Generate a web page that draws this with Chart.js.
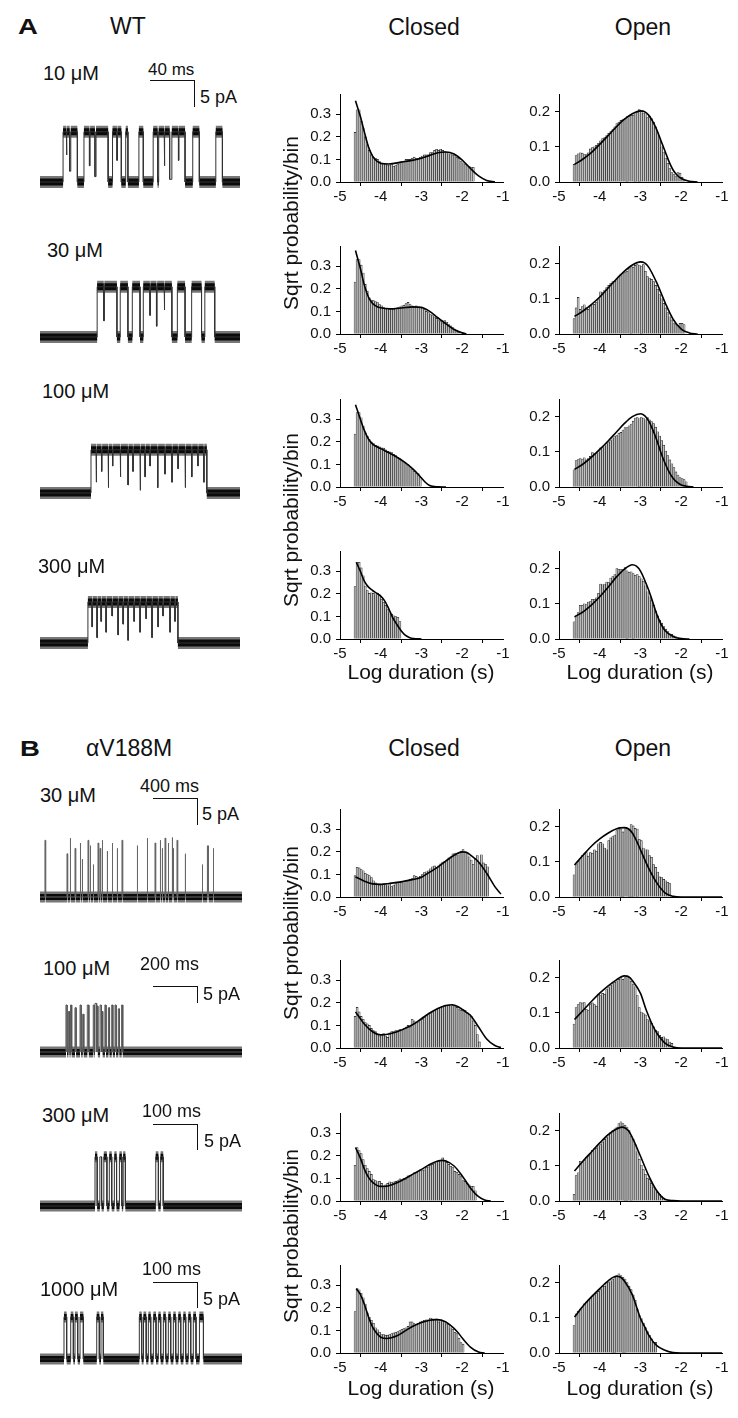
<!DOCTYPE html>
<html>
<head>
<meta charset="utf-8">
<script src="https://cdn.jsdelivr.net/npm/chart.js@4.4.1/dist/chart.umd.min.js"></script>
<style>
  body { margin: 0; background: #fff; width: 738px; height: 1418px; position: relative; overflow: hidden;
         font-family: "Liberation Sans", Arial, Helvetica, sans-serif; color: #111; }
  .t { position: absolute; white-space: nowrap; line-height: 1; }
  canvas { position: absolute; }
  .sb { position: absolute; background: #111; }
</style>
</head>
<body>
<script>
Chart.defaults.font.family = '"Liberation Sans", Arial, Helvetica, sans-serif';
Chart.defaults.color = '#111';
Chart.defaults.animation = false;

// histogram bins: centre of first bin and bin width, in log10(s)
const binFirst = -4.63;
const binWidth = 0.05;

// ---- WT closed / open dwell histograms (sqrt probability per bin)
const closedWT10 = [0.22,0.32,0.32,0.27,0.24,0.20,0.165,0.14,0.12,0.11,0.105,0.10,0.09,0.08,0.08,0.08,0.075,0.075,0.08,0.07,0.075,0.08,0.085,0.09,0.09,0.10,0.10,0.10,0.105,0.11,0.105,0.105,0.11,0.115,0.12,0.12,0.12,0.13,0.13,0.14,0.145,0.14,0.145,0.14,0.135,0.13,0.125,0.125,0.12,0.12,0.11,0.105,0.09,0.085,0.08,0.075,0.07,0.065,0.065];
const openWT10 = [0.05,0.075,0.08,0.083,0.082,0.078,0.078,0.083,0.094,0.098,0.10,0.104,0.11,0.117,0.123,0.126,0.132,0.138,0.143,0.149,0.157,0.166,0.17,0.175,0.177,0.18,0.186,0.187,0.19,0.19,0.194,0.197,0.206,0.20,0.196,0.197,0.183,0.187,0.18,0.17,0.157,0.14,0.12,0.10,0.085,0.068,0.053,0.038,0.027,0.021,0.017,0.027,0.025,0.013,0.007];
const closedWT30 = [0.23,0.33,0.33,0.305,0.27,0.22,0.19,0.16,0.15,0.148,0.144,0.139,0.13,0.125,0.117,0.115,0.115,0.11,0.11,0.11,0.115,0.117,0.12,0.125,0.128,0.135,0.14,0.13,0.125,0.12,0.125,0.12,0.117,0.115,0.108,0.10,0.095,0.086,0.082,0.075,0.069,0.06,0.055,0.049,0.06,0.052,0.042,0.036,0.029,0.022,0.016,0.009];
const openWT30 = [0.044,0.074,0.104,0.07,0.078,0.083,0.074,0.07,0.078,0.083,0.084,0.09,0.098,0.12,0.118,0.125,0.132,0.138,0.144,0.149,0.15,0.157,0.163,0.17,0.172,0.176,0.178,0.19,0.193,0.19,0.195,0.197,0.196,0.193,0.197,0.178,0.163,0.159,0.155,0.149,0.138,0.127,0.112,0.10,0.087,0.074,0.061,0.049,0.04,0.031,0.027,0.025,0.03,0.03,0.027];
const closedWT100 = [0.235,0.33,0.33,0.307,0.27,0.24,0.225,0.21,0.20,0.192,0.185,0.182,0.178,0.174,0.172,0.165,0.159,0.156,0.152,0.145,0.139,0.132,0.126,0.119,0.112,0.106,0.099,0.09,0.077,0.07,0.062,0.06,0.042];
const openWT100 = [0.049,0.075,0.078,0.081,0.078,0.083,0.077,0.081,0.087,0.098,0.094,0.095,0.10,0.111,0.112,0.117,0.123,0.128,0.132,0.14,0.145,0.146,0.153,0.155,0.162,0.169,0.169,0.174,0.179,0.187,0.196,0.197,0.194,0.197,0.196,0.191,0.197,0.191,0.186,0.18,0.17,0.157,0.145,0.132,0.119,0.102,0.089,0.077,0.066,0.055,0.043,0.034,0.027,0.024,0.021,0.015];
const closedWT300 = [0.232,0.34,0.34,0.315,0.28,0.235,0.215,0.202,0.205,0.202,0.196,0.202,0.196,0.176,0.163,0.149,0.13,0.116,0.11,0.103,0.099,0.096,0.077];
const openWT300 = [0.049,0.066,0.075,0.096,0.096,0.10,0.098,0.105,0.106,0.113,0.113,0.117,0.13,0.156,0.154,0.156,0.162,0.16,0.173,0.177,0.183,0.20,0.198,0.197,0.198,0.203,0.194,0.19,0.191,0.186,0.181,0.183,0.177,0.171,0.164,0.151,0.134,0.12,0.109,0.096,0.079,0.066,0.054,0.045,0.035,0.028,0.021,0.015,0.013,0.009,0.006];

// ---- alphaV188M closed / open
const closedVM30 = [0.095,0.132,0.129,0.121,0.116,0.105,0.099,0.095,0.086,0.072,0.063,0.055,0.053,0.055,0.059,0.055,0.05,0.059,0.046,0.053,0.059,0.063,0.066,0.068,0.063,0.072,0.072,0.079,0.082,0.095,0.092,0.086,0.092,0.099,0.108,0.112,0.116,0.125,0.134,0.138,0.132,0.138,0.147,0.155,0.158,0.164,0.174,0.178,0.191,0.195,0.184,0.187,0.204,0.21,0.20,0.195,0.178,0.164,0.145,0.171,0.184,0.151,0.187,0.151,0.145,0.134];
const openVM30 = [0.063,0.092,0.101,0.109,0.118,0.122,0.126,0.116,0.126,0.124,0.134,0.13,0.151,0.155,0.151,0.139,0.134,0.16,0.168,0.172,0.176,0.189,0.197,0.193,0.185,0.197,0.195,0.193,0.206,0.202,0.195,0.193,0.164,0.16,0.139,0.134,0.134,0.118,0.113,0.092,0.084,0.071,0.057,0.055,0.05,0.046,0.042,0.038];
const closedVM100 = [0.14,0.18,0.16,0.14,0.127,0.113,0.107,0.10,0.087,0.077,0.073,0.06,0.053,0.06,0.064,0.053,0.047,0.067,0.073,0.073,0.077,0.077,0.083,0.08,0.087,0.093,0.10,0.093,0.127,0.12,0.113,0.113,0.123,0.127,0.136,0.144,0.147,0.153,0.16,0.167,0.17,0.176,0.18,0.184,0.19,0.19,0.19,0.187,0.19,0.184,0.18,0.173,0.167,0.17,0.167,0.157,0.149,0.14,0.12,0.10,0.06,0.027];
const openVM100 = [0.068,0.115,0.123,0.129,0.128,0.129,0.11,0.106,0.123,0.128,0.123,0.119,0.153,0.149,0.155,0.153,0.166,0.172,0.179,0.183,0.187,0.191,0.195,0.20,0.195,0.20,0.205,0.20,0.19,0.18,0.174,0.149,0.115,0.102,0.098,0.094,0.081,0.077,0.07,0.06,0.051,0.047,0.036,0.03,0.032,0.026,0.024,0.017,0.013];
const closedVM300 = [0.158,0.237,0.224,0.21,0.184,0.158,0.144,0.131,0.118,0.095,0.091,0.085,0.087,0.078,0.058,0.072,0.078,0.085,0.082,0.085,0.087,0.091,0.098,0.095,0.101,0.098,0.111,0.114,0.118,0.125,0.125,0.131,0.138,0.135,0.138,0.148,0.151,0.158,0.162,0.167,0.175,0.177,0.18,0.191,0.18,0.171,0.162,0.154,0.148,0.131,0.127,0.118,0.111,0.091,0.087,0.078,0.072,0.065,0.065,0.045];
const openVM300 = [0.019,0.072,0.08,0.113,0.11,0.116,0.123,0.127,0.132,0.144,0.149,0.15,0.157,0.16,0.168,0.175,0.18,0.19,0.195,0.20,0.205,0.21,0.22,0.225,0.22,0.215,0.21,0.20,0.185,0.175,0.16,0.14,0.119,0.102,0.089,0.076,0.065,0.062,0.05,0.038,0.029,0.025,0.019,0.014,0.008,0.005];
const closedVM1000 = [0.184,0.285,0.28,0.265,0.245,0.217,0.178,0.158,0.145,0.132,0.112,0.103,0.092,0.082,0.082,0.079,0.079,0.082,0.086,0.089,0.092,0.095,0.099,0.105,0.108,0.112,0.118,0.138,0.138,0.13,0.125,0.132,0.138,0.142,0.145,0.147,0.147,0.155,0.151,0.147,0.151,0.138,0.147,0.142,0.134,0.129,0.125,0.112,0.105,0.092,0.086,0.066,0.046,0.039];
const openVM1000 = [0.078,0.111,0.119,0.125,0.13,0.14,0.145,0.15,0.155,0.16,0.165,0.17,0.175,0.18,0.19,0.19,0.20,0.20,0.205,0.21,0.215,0.22,0.225,0.22,0.215,0.21,0.20,0.19,0.18,0.165,0.15,0.125,0.106,0.098,0.085,0.072,0.061,0.051,0.04,0.03,0.03];

// ---- fitted curves [log duration, sqrt prob]
const fitClosedWT10 = [[-4.62,0.36],[-4.5,0.29],[-4.4,0.22],[-4.3,0.155],[-4.2,0.115],[-4.1,0.093],[-4.0,0.083],[-3.8,0.08],[-3.5,0.088],[-3.2,0.097],[-3.0,0.105],[-2.8,0.118],[-2.6,0.13],[-2.4,0.133],[-2.2,0.124],[-2.0,0.097],[-1.8,0.06],[-1.6,0.027],[-1.4,0.007],[-1.2,0.001]];
const fitOpenWT10 = [[-4.62,0.05],[-4.4,0.066],[-4.2,0.084],[-4.0,0.107],[-3.8,0.131],[-3.6,0.156],[-3.4,0.178],[-3.2,0.194],[-3.0,0.202],[-2.9,0.2],[-2.8,0.19],[-2.7,0.172],[-2.6,0.148],[-2.5,0.118],[-2.4,0.088],[-2.3,0.058],[-2.2,0.034],[-2.1,0.019],[-2.0,0.01],[-1.8,0.002],[-1.6,0]];
const fitClosedWT30 = [[-4.62,0.37],[-4.5,0.29],[-4.4,0.215],[-4.3,0.163],[-4.2,0.135],[-4.1,0.122],[-4.0,0.116],[-3.8,0.112],[-3.5,0.115],[-3.2,0.12],[-3.0,0.118],[-2.8,0.1],[-2.6,0.072],[-2.4,0.045],[-2.2,0.02],[-2.0,0.005],[-1.9,0.001]];
const fitOpenWT30 = [[-4.62,0.05],[-4.4,0.066],[-4.2,0.084],[-4.0,0.105],[-3.8,0.13],[-3.6,0.155],[-3.4,0.178],[-3.2,0.196],[-3.0,0.205],[-2.9,0.202],[-2.8,0.19],[-2.6,0.145],[-2.4,0.09],[-2.2,0.042],[-2.0,0.014],[-1.8,0.003],[-1.6,0]];
const fitClosedWT100 = [[-4.62,0.365],[-4.5,0.3],[-4.4,0.25],[-4.3,0.212],[-4.2,0.19],[-4.0,0.17],[-3.8,0.152],[-3.6,0.132],[-3.4,0.108],[-3.2,0.078],[-3.0,0.04],[-2.9,0.02],[-2.8,0.007],[-2.6,0.001],[-2.4,0]];
const fitOpenWT100 = [[-4.62,0.05],[-4.4,0.066],[-4.2,0.085],[-4.0,0.107],[-3.8,0.13],[-3.6,0.155],[-3.4,0.18],[-3.2,0.2],[-3.0,0.208],[-2.9,0.203],[-2.8,0.188],[-2.7,0.163],[-2.6,0.133],[-2.5,0.098],[-2.4,0.068],[-2.3,0.043],[-2.2,0.025],[-2.1,0.013],[-2.0,0.006],[-1.8,0.001],[-1.7,0]];
const fitClosedWT300 = [[-4.6,0.34],[-4.5,0.3],[-4.4,0.255],[-4.3,0.23],[-4.2,0.215],[-4.1,0.203],[-4.0,0.19],[-3.9,0.168],[-3.8,0.133],[-3.7,0.092],[-3.6,0.063],[-3.5,0.037],[-3.4,0.017],[-3.3,0.007],[-3.2,0.002],[-3.0,0]];
const fitOpenWT300 = [[-4.62,0.063],[-4.4,0.078],[-4.2,0.097],[-4.0,0.12],[-3.8,0.146],[-3.6,0.175],[-3.4,0.198],[-3.2,0.211],[-3.1,0.207],[-3.0,0.193],[-2.8,0.139],[-2.7,0.105],[-2.6,0.07],[-2.5,0.043],[-2.4,0.024],[-2.2,0.007],[-2.0,0.001],[-1.8,0]];
const fitClosedVM30 = [[-4.62,0.09],[-4.4,0.07],[-4.2,0.058],[-4.0,0.056],[-3.8,0.06],[-3.5,0.067],[-3.2,0.078],[-3.0,0.088],[-2.8,0.11],[-2.6,0.132],[-2.4,0.16],[-2.2,0.185],[-2.0,0.2],[-1.9,0.198],[-1.8,0.186],[-1.6,0.155],[-1.4,0.105],[-1.2,0.046],[-1.05,0.013]];
const fitOpenVM30 = [[-4.62,0.091],[-4.4,0.12],[-4.2,0.145],[-4.0,0.165],[-3.8,0.181],[-3.6,0.193],[-3.4,0.197],[-3.3,0.194],[-3.2,0.182],[-3.1,0.16],[-3.0,0.134],[-2.8,0.082],[-2.6,0.04],[-2.4,0.012],[-2.2,0.002],[-2.0,0],[-1.0,0]];
const fitClosedVM100 = [[-4.62,0.16],[-4.5,0.13],[-4.4,0.105],[-4.2,0.072],[-4.0,0.058],[-3.8,0.062],[-3.6,0.072],[-3.4,0.087],[-3.2,0.105],[-3.0,0.13],[-2.8,0.155],[-2.6,0.175],[-2.4,0.188],[-2.25,0.192],[-2.1,0.183],[-1.9,0.158],[-1.8,0.145],[-1.6,0.093],[-1.4,0.04],[-1.2,0.011],[-1.05,0.002]];
const fitOpenVM100 = [[-4.62,0.081],[-4.4,0.108],[-4.2,0.133],[-4.0,0.156],[-3.8,0.176],[-3.6,0.193],[-3.4,0.205],[-3.3,0.203],[-3.2,0.192],[-3.0,0.155],[-2.85,0.105],[-2.65,0.052],[-2.4,0.014],[-2.2,0.003],[-2.0,0],[-1.0,0]];
const fitClosedVM300 = [[-4.62,0.237],[-4.5,0.19],[-4.4,0.14],[-4.3,0.105],[-4.2,0.083],[-4.0,0.065],[-3.9,0.065],[-3.7,0.074],[-3.5,0.09],[-3.2,0.12],[-3.0,0.14],[-2.8,0.162],[-2.6,0.177],[-2.5,0.18],[-2.4,0.177],[-2.2,0.155],[-2.0,0.111],[-1.8,0.058],[-1.6,0.019],[-1.45,0.004],[-1.3,0]];
const fitOpenVM300 = [[-4.62,0.085],[-4.4,0.115],[-4.2,0.14],[-4.0,0.165],[-3.8,0.188],[-3.6,0.204],[-3.45,0.21],[-3.3,0.2],[-3.2,0.18],[-3.0,0.127],[-2.8,0.072],[-2.6,0.029],[-2.4,0.005],[-2.2,0.001],[-2.0,0],[-1.0,0]];
const fitClosedVM1000 = [[-4.6,0.285],[-4.5,0.26],[-4.4,0.215],[-4.3,0.16],[-4.2,0.115],[-4.1,0.088],[-4.0,0.07],[-3.85,0.064],[-3.6,0.076],[-3.4,0.098],[-3.2,0.12],[-3.0,0.135],[-2.8,0.145],[-2.65,0.148],[-2.5,0.145],[-2.3,0.125],[-2.1,0.09],[-2.0,0.066],[-1.8,0.026],[-1.6,0.004],[-1.45,0]];
const fitOpenVM1000 = [[-4.62,0.102],[-4.4,0.135],[-4.2,0.16],[-4.0,0.183],[-3.8,0.204],[-3.6,0.218],[-3.5,0.216],[-3.4,0.205],[-3.2,0.165],[-3.0,0.098],[-2.9,0.075],[-2.8,0.051],[-2.6,0.021],[-2.4,0.008],[-2.2,0.001],[-2.0,0],[-1.0,0]];

const xTicks = [-5, -4, -3, -2, -1];

// ---- single channel traces: [time ms, current pA], level holds until the next entry
const traceWT10 = [[0,0],[21,9.3],[24,5],[24.5,9.3],[27,2],[28,9.3],[34,0],[40,9.3],[45,3],[45.6,9.3],[50,1],[51,9.3],[62,0],[66,9.3],[70,4],[70.5,9.3],[74,0],[78,9.3],[80,0],[90,9.3],[94,0],[103,9.3],[107,0],[108,9.3],[113,3],[113.6,9.3],[118,0.5],[120,9.3],[126,4],[126.5,9.3],[132,0],[139,9.3],[145,0],[160,9.3],[166,0],[182,0]];
const traceWT30 = [[0,0],[52,9.3],[58,3],[58.6,9.3],[70,0],[73,9.3],[80,0],[84,9.3],[91,0],[94,9.3],[100,4],[100.5,9.3],[106,2],[106.6,9.3],[113,5],[113.5,9.3],[120,0],[125,9.3],[132,0],[138,9.3],[147,0],[150,9.3],[159,0],[182,0]];
const traceWT100 = [[0,0],[46.4,8],[51,2],[51.5,8],[56,4],[56.5,8],[62,1],[62.5,8],[66,5],[66.5,8],[73,3],[73.5,8],[80,1.5],[80.5,8],[84.5,4],[85,8],[91,0.5],[91.5,8],[95.5,3],[96,8],[100,5],[100.5,8],[107,1],[107.5,8],[113.6,3.5],[114.1,8],[120,2],[120.5,8],[125.5,4.5],[126,8],[132,1],[132.5,8],[138,3],[138.5,8],[143.6,5],[144.1,8],[149,2],[149.5,8],[151.8,0],[182,0]];
const traceWT300 = [[0,0],[43.6,7.6],[47.3,3],[47.8,7.6],[51.8,1],[52.3,7.6],[55.5,4],[56,7.6],[60,2],[60.5,7.6],[65.5,5],[66,7.6],[70.9,1.5],[71.4,7.6],[75.5,3.5],[76,7.6],[80,0.5],[80.5,7.6],[85.5,4],[86,7.6],[90.9,2],[91.4,7.6],[96.4,4.5],[96.9,7.6],[101.8,1],[102.3,7.6],[107.3,3],[107.8,7.6],[111.8,5],[112.3,7.6],[118.2,2],[118.7,7.6],[122.7,4],[123.2,7.6],[125.5,0],[182,0]];
const traceVM30 = [[0,0],[45,10.5],[51,0],[245,8],[251,0],[273,10.9],[279,0],[318,9],[324,0],[364,10],[370,0],[382,7],[388,0],[436,10.5],[442,0],[455,9.5],[461,0],[482,6],[488,0],[527,10],[533,0],[545,9],[551,0],[564,10.5],[570,0],[609,8.5],[615,0],[655,10],[661,0],[700,9],[706,0],[745,10.5],[751,0],[882,9.5],[888,0],[973,10.9],[979,0],[1045,10],[1051,0],[1091,10.5],[1097,0],[1109,9],[1115,0],[1136,10.9],[1142,0],[1164,10],[1170,0],[1200,11],[1206,0],[1209,9],[1215,0],[1245,10.5],[1251,0],[1318,8],[1324,0],[1473,6],[1479,0],[1518,9.5],[1524,0],[1527,9.5],[1533,0],[1573,9],[1579,0],[1836,0]];
const traceVM100 = [[0,0],[118,8.7],[123,0],[129,7.5],[134,0],[139,8.7],[144,0],[159,8.2],[164,0],[182,8.7],[187,0],[194,7],[199,0],[215,8.7],[222,0],[242,8.7],[247,0],[250,9],[257,0],[258,8.5],[263,0],[273,8.7],[278,0],[280,7.5],[285,0],[295,8.7],[300,0],[311,8.2],[316,0],[326,8.7],[331,0],[341,8.7],[346,0],[356,8],[361,0],[371,8.7],[376,0],[918,0]];
const traceVM300 = [[0,0],[125,9.1],[130,0],[136,9.1],[140,0],[145,9.1],[152,0],[157.5,9.1],[163,0],[169,9.1],[174,0],[180.5,9.1],[186,0],[189,9.1],[194,0],[263,9.1],[269,0],[274,9.1],[280,0],[459,0]];
const traceVM1000 = [[0,0],[54.5,7.8],[60.6,0],[69.8,7.8],[75.8,0],[79.5,7.8],[85.7,0],[91,7.8],[98.5,0],[128.9,7.8],[134.8,0],[138.6,7.8],[143.9,0],[225.7,7.8],[231.1,0],[235.2,7.8],[241.3,0],[246.2,7.8],[251.6,0],[257.6,7.8],[263.6,0],[268.9,7.8],[274.3,0],[280.3,7.8],[285.7,0],[291.6,7.8],[297,0],[303,7.8],[308.4,0],[314.3,7.8],[319.8,0],[325.7,7.8],[331.1,0],[337.1,7.8],[342.5,0],[348.4,7.8],[354.5,0],[362.3,7.8],[371.4,0],[459,0]];

const pxPerPA = 5.4;

function txt(s, x, base, size, extra) {
  const d = document.createElement('div');
  d.className = 't';
  d.textContent = s;
  d.style.left = x + 'px';
  d.style.top = (base - 0.85 * size) + 'px';
  d.style.fontSize = size + 'px';
  if (extra) Object.assign(d.style, extra);
  document.body.appendChild(d);
}

function scaleBar(x0, x1, y0, y1) {
  const h = document.createElement('div');
  h.className = 'sb';
  Object.assign(h.style, { left: x0 + 'px', top: y0 + 'px', width: (x1 - x0) + 'px', height: '1.4px' });
  const v = document.createElement('div');
  v.className = 'sb';
  Object.assign(v.style, { left: (x1 - 1.4) + 'px', top: y0 + 'px', width: '1.4px', height: (y1 - y0) + 'px' });
  document.body.append(h, v);
}

function canvasAt(left, top, w, h) {
  const c = document.createElement('canvas');
  c.width = w; c.height = h;
  Object.assign(c.style, { left: left + 'px', top: top + 'px', width: w + 'px', height: h + 'px' });
  document.body.appendChild(c);
  return c.getContext('2d');
}

function histChart(plotLeft, base, yMax, bins, fit) {
  const ctx = canvasAt(plotLeft - 42, base - 98 - 4, 215, 126);
  new Chart(ctx, {
    type: 'bar',
    data: {
      datasets: [
        {
          type: 'line',
          data: fit.map(p => ({ x: p[0], y: p[1] })),
          borderColor: '#000',
          borderWidth: 1.6,
          pointRadius: 0,
          cubicInterpolationMode: 'monotone',
          order: 0,
        },
        {
          type: 'bar',
          data: bins.map((v, i) => ({ x: binFirst + i * binWidth, y: v })),
          backgroundColor: '#c4c4c4',
          borderColor: '#1a1a1a',
          borderWidth: 0.6,
          barPercentage: 1,
          categoryPercentage: 1,
          order: 1,
        },
      ],
    },
    options: {
      responsive: false,
      devicePixelRatio: 1,
      animation: false,
      layout: { padding: { left: 0, right: 10, top: 4, bottom: 0 }, autoPadding: false },
      plugins: { legend: { display: false }, tooltip: { enabled: false } },
      scales: {
        x: {
          type: 'linear', min: xTicks[0], max: xTicks[xTicks.length - 1], offset: false,
          border: { display: true, color: '#000', width: 1 },
          grid: { drawOnChartArea: false, drawTicks: true, tickLength: 4, color: '#000' },
          ticks: { stepSize: 1, padding: 2, autoSkip: false, maxRotation: 0, font: { size: 15 }, color: '#111',
                   callback: v => String(v) },
          afterFit: s => { s.height = 24; },
        },
        y: {
          min: 0, max: yMax,
          border: { display: true, color: '#000', width: 1 },
          grid: { drawOnChartArea: false, drawTicks: true, tickLength: 4, color: '#000' },
          ticks: { stepSize: 0.1, padding: 5, font: { size: 15 }, color: '#111', callback: v => v.toFixed(1) },
          afterBuildTicks: s => { s.ticks = s.ticks.filter(t => Math.abs(t.value * 10 - Math.round(t.value * 10)) < 1e-6); },
          afterFit: s => { s.width = 42; },
        },
      },
    },
  });
}

function traceChart(steps, base, pxPerMs, band, lineColor) {
  const tMax = steps[steps.length - 1][0];
  const width = Math.round(tMax * pxPerMs);
  const ctx = canvasAt(40, base - 72, width, 86);
  const full = Math.max(...steps.map(s => s[1]));
  const line = [], closedBand = [], openBand = [];
  steps.forEach((s, i) => {
    if (i > 0) line.push({ x: s[0], y: steps[i - 1][1] });
    line.push({ x: s[0], y: s[1] });
    const next = steps[i + 1];
    if (!next) return;
    if (s[1] === 0) {
      closedBand.push({ x: s[0], y: 0 }, { x: next[0], y: 0 }, { x: next[0], y: null });
    } else if (s[1] >= 0.75 * full && (next[0] - s[0]) * pxPerMs >= 2) {
      openBand.push({ x: s[0], y: s[1] }, { x: next[0], y: s[1] }, { x: next[0], y: null });
    }
  });
  const common = { pointRadius: 0, tension: 0, spanGaps: false, borderCapStyle: 'butt', fill: false };
  // first dataset is painted last (on top)
  new Chart(ctx, {
    type: 'line',
    data: {
      datasets: [
        Object.assign({ data: line, borderColor: lineColor, borderWidth: 1 }, common),
        Object.assign({ data: closedBand, borderColor: '#0a0a0a', borderWidth: band - 2 }, common),
        Object.assign({ data: openBand, borderColor: '#0a0a0a', borderWidth: band - 2 }, common),
        Object.assign({ data: closedBand, borderColor: '#777', borderWidth: band + 3 }, common),
        Object.assign({ data: openBand, borderColor: '#777', borderWidth: band + 3 }, common),
      ],
    },
    options: {
      responsive: false,
      devicePixelRatio: 1,
      animation: false,
      layout: { padding: 0, autoPadding: false },
      plugins: { legend: { display: false }, tooltip: { enabled: false } },
      scales: {
        x: { type: 'linear', display: false, min: 0, max: tMax },
        y: { display: false, min: -14 / pxPerPA, max: 72 / pxPerPA },
      },
    },
  });
}

// ---------- layout
const closedLeft = 340, openLeft = 559;
const rowsWT = [182, 334, 487, 639];
const rowsVM = [897, 1048, 1201, 1353];

const histWT = [[closedWT10, fitClosedWT10, openWT10, fitOpenWT10],
                [closedWT30, fitClosedWT30, openWT30, fitOpenWT30],
                [closedWT100, fitClosedWT100, openWT100, fitOpenWT100],
                [closedWT300, fitClosedWT300, openWT300, fitOpenWT300]];
const histVM = [[closedVM30, fitClosedVM30, openVM30, fitOpenVM30],
                [closedVM100, fitClosedVM100, openVM100, fitOpenVM100],
                [closedVM300, fitClosedVM300, openVM300, fitOpenVM300],
                [closedVM1000, fitClosedVM1000, openVM1000, fitOpenVM1000]];

rowsWT.forEach((b, i) => {
  histChart(closedLeft, b, 0.39, histWT[i][0], histWT[i][1]);
  histChart(openLeft, b, 0.25, histWT[i][2], histWT[i][3]);
});
rowsVM.forEach((b, i) => {
  histChart(closedLeft, b, 0.39, histVM[i][0], histVM[i][1]);
  histChart(openLeft, b, 0.25, histVM[i][2], histVM[i][3]);
});

traceChart(traceWT10, 182, 1.1, 9, '#333');
traceChart(traceWT30, 337, 1.1, 9, '#333');
traceChart(traceWT100, 493, 1.1, 9, '#333');
traceChart(traceWT300, 643, 1.1, 9, '#333');
traceChart(traceVM30, 897, 0.11, 8, '#666');
traceChart(traceVM100, 1052, 0.22, 8, '#555');
traceChart(traceVM300, 1206, 0.44, 8, '#333');
traceChart(traceVM1000, 1359, 0.44, 8, '#333');

// ---------- text
const boldLetter = { fontWeight: 'bold', transform: 'scaleX(1.25)', transformOrigin: 'left' };
const center = { transform: 'translateX(-50%)' };
txt('A', 18, 35, 22, boldLetter);
txt('WT', 110, 35, 23);
txt('Closed', 424, 36, 23, center);
txt('Open', 643, 36, 23, center);
txt('B', 20, 757, 22, boldLetter);
txt('\u03b1V188M', 86, 757, 23);
txt('Closed', 424, 757, 23, center);
txt('Open', 643, 757, 23, center);

txt('10 \u03bcM', 43, 80, 20);
txt('40 ms', 148, 75, 17);
scaleBar(150, 195, 80, 107);
txt('5 pA', 200, 103, 18);
txt('30 \u03bcM', 47, 257, 20);
txt('100 \u03bcM', 42, 398, 20);
txt('300 \u03bcM', 38, 573, 20);

txt('30 \u03bcM', 40, 802, 20);
txt('400 ms', 140, 792, 18);
scaleBar(153, 198, 798, 825);
txt('5 pA', 202, 820, 18);
txt('100 \u03bcM', 43, 975, 20);
txt('200 ms', 140, 970, 18);
scaleBar(153, 198, 986, 1003);
txt('5 pA', 203, 1000, 18);
txt('300 \u03bcM', 42, 1122, 20);
txt('100 ms', 142, 1117, 18);
scaleBar(153, 198, 1124, 1150);
txt('5 pA', 204, 1147, 18);
txt('1000 \u03bcM', 40, 1296, 20);
txt('100 ms', 142, 1275, 18);
scaleBar(153, 198, 1282, 1308);
txt('5 pA', 203, 1305, 18);

[223, 520, 933, 1236].forEach(cy => {
  const d = document.createElement('div');
  d.className = 't';
  d.textContent = 'Sqrt probability/bin';
  Object.assign(d.style, { left: '290px', top: cy + 'px', fontSize: '21px',
                           transform: 'translate(-50%, -50%) rotate(-90deg)' });
  document.body.appendChild(d);
});
txt('Log duration (s)', 421, 679, 21, center);
txt('Log duration (s)', 640, 679, 21, center);
txt('Log duration (s)', 421, 1395, 21, center);
txt('Log duration (s)', 640, 1395, 21, center);
</script>
</body>
</html>
